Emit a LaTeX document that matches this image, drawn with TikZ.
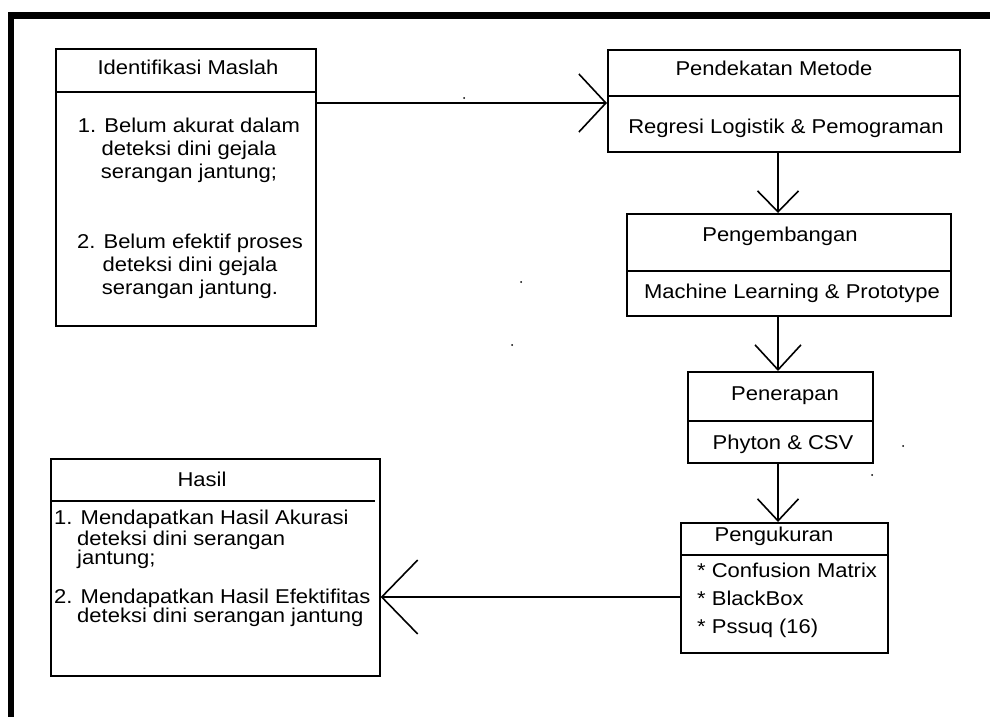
\documentclass[tikz,border=0pt]{standalone}
\usepackage{fontspec}
\setmainfont{Liberation Sans}[FakeStretch=1.1]
\usetikzlibrary{arrows.meta}
\begin{document}
\begin{tikzpicture}[x=1pt,y=-1pt,
  box/.style={draw, line width=1.6pt, rectangle, inner sep=0pt, anchor=north west},
  txt/.style={inner sep=0pt, font=\fontsize{20}{23}\selectfont, align=center},
  htxt/.style={inner sep=0pt, font=\fontsize{20}{24}\selectfont, anchor=base west},
  divline/.style={line width=1.6pt},
  conn/.style={line width=1.6pt}
]
\useasboundingbox (0,0) rectangle (990,717);
% outer frame (only top and left visible)
\draw[line width=6.5pt] (990,15.5) -| (11,717);

% boxes
\node[box, minimum width=260pt, minimum height=277pt] (idf) at (55,48) {};
\node[box, minimum width=352pt, minimum height=102pt] (pen) at (607,49) {};
\node[box, minimum width=324pt, minimum height=102pt] (dev) at (626,213) {};
\node[box, minimum width=185pt, minimum height=91pt] (pnr) at (687,371) {};
\node[box, minimum width=207pt, minimum height=130pt] (pgk) at (680,522) {};
\node[box, minimum width=329pt, minimum height=217pt] (has) at (50,458) {};

% divider lines
\coordinate (d1) at (0,92);
\coordinate (d2) at (0,96);
\coordinate (d3) at (0,271);
\coordinate (d4) at (0,421);
\coordinate (d5) at (0,555);
\coordinate (d6) at (0,501);
\coordinate (d6e) at (375,0);
\draw[divline] (idf.west |- d1) -- (idf.east |- d1);
\draw[divline] (pen.west |- d2) -- (pen.east |- d2);
\draw[divline] (dev.west |- d3) -- (dev.east |- d3);
\draw[divline] (pnr.west |- d4) -- (pnr.east |- d4);
\draw[divline] (pgk.west |- d5) -- (pgk.east |- d5);
\draw[divline] (has.west |- d6) -- (d6e |- d6);

% texts
\node[txt] (idfh) at (188,67) {Identifikasi Maslah};
\node[txt] (idf1) at (189,150) {1. Belum akurat dalam\\deteksi dini gejala\\serangan jantung;};
\node[txt] (idf2) at (190,266) {2. Belum efektif proses\\deteksi dini gejala\\serangan jantung.};
\node[txt] (penh) at (774,68) {Pendekatan Metode};
\node[txt] (penb) at (786,128) {Regresi Logistik \& Pemograman};
\node[txt] (devh) at (780,236) {Pengembangan};
\node[txt] (devb) at (792,293) {Machine Learning \& Prototype};
\node[txt] (pnrh) at (785,396) {Penerapan};
\node[txt] (pnrb) at (783,444) {Phyton \& CSV};
\node[txt] (pgkh) at (774,536) {Pengukuran};
\node[txt, align=left, anchor=west, font=\fontsize{20}{28}\selectfont] (pgkb) at (697,600) {* Confusion Matrix\\* BlackBox\\* Pssuq (16)};
\node[txt] (hash) at (202,479) {Hasil};
\node[htxt] (has1a) at (54,524) {1. Mendapatkan Hasil Akurasi};
\node[htxt] (has1b) at (77,545) {deteksi dini serangan};
\node[htxt] (has1c) at (77,564) {jantung;};
\node[htxt] (has2a) at (54,603) {2. Mendapatkan Hasil Efektifitas};
\node[htxt] (has2b) at (77,622) {deteksi dini serangan jantung};

% connectors
\coordinate (y1) at (0,103);
\coordinate (ax) at (778,0);
\coordinate (ay) at (0,597);
\draw[conn, -{Straight Barb[length=27pt,width=58pt]}] (idf.east |- y1) -- (pen.west |- y1);
\draw[conn, -{Straight Barb[length=21pt,width=41pt]}] (pen.south -| ax) -- (dev.north -| ax);
\draw[conn, -{Straight Barb[length=25pt,width=46pt]}] (dev.south -| ax) -- (pnr.north -| ax);
\draw[conn, -{Straight Barb[length=22pt,width=41pt]}] (pnr.south -| ax) -- (pgk.north -| ax);
\draw[conn, -{Straight Barb[length=36pt,width=74pt]}] (pgk.west |- ay) -- (has.east |- ay);

% stray dots
\fill (464,98) circle (1pt);
\fill (521,282) circle (1pt);
\fill (512,345) circle (1pt);
\fill (903,446) circle (1pt);
\fill (872,475) circle (1pt);
\end{tikzpicture}
\end{document}
